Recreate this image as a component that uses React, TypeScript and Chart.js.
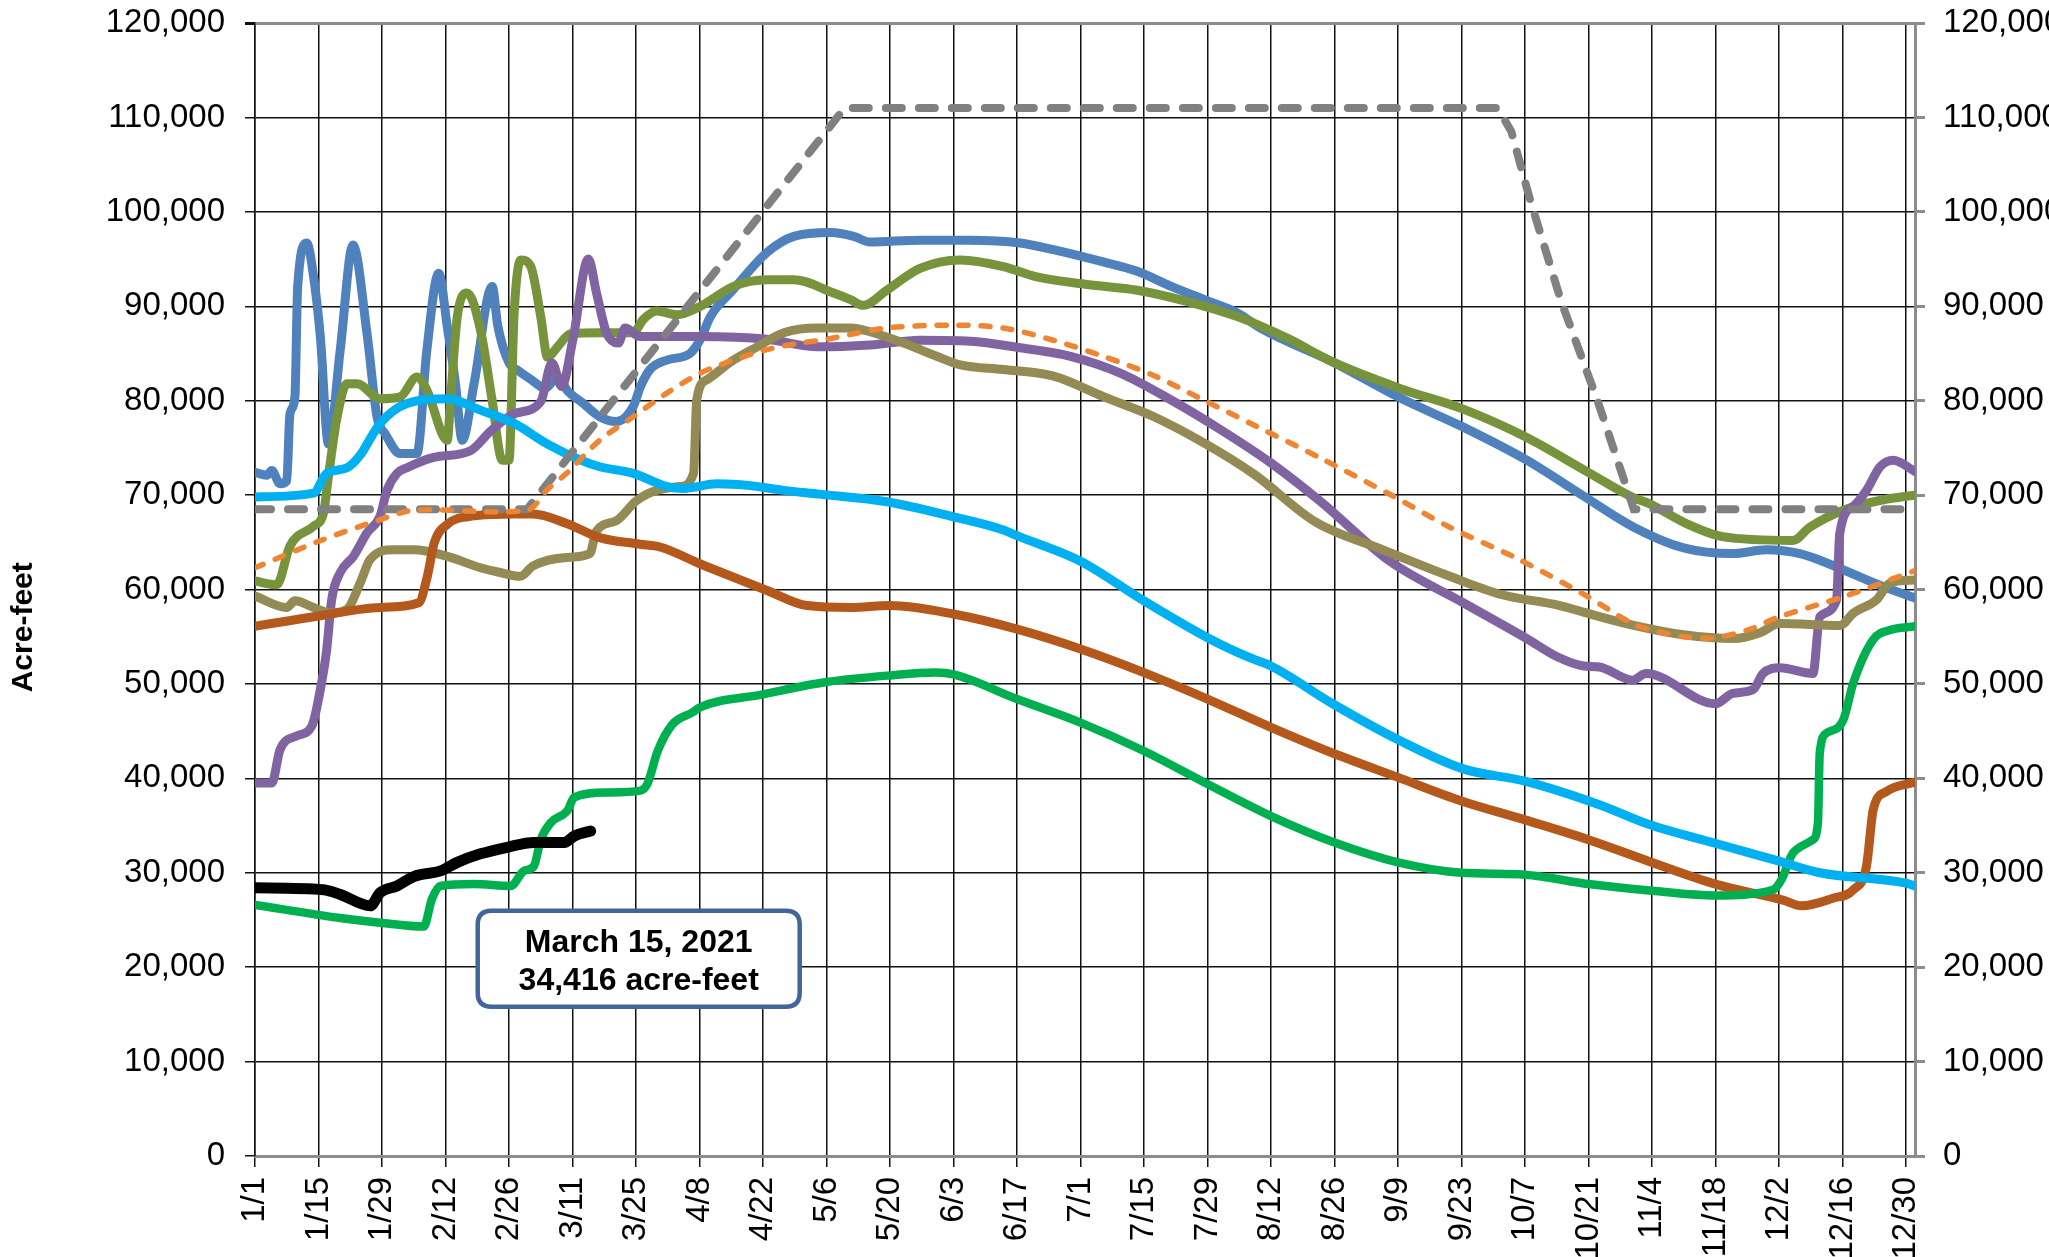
import React, { useEffect, useRef } from "react";
import { Chart, registerables } from "chart.js";

Chart.register(...registerables);

// ---- Axis definitions (leap year, day 0 = Jan 1) ----
const TICK_DAYS: number[] = [0, 14, 28, 42, 56, 70, 84, 98, 112, 126, 140, 154, 168, 182, 196, 210, 224, 238, 252, 266, 280, 294, 308, 322, 336, 350, 364];
const TICK_LABELS: string[] = ["1/1", "1/15", "1/29", "2/12", "2/26", "3/11", "3/25", "4/8", "4/22", "5/6", "5/20", "6/3", "6/17", "7/1", "7/15", "7/29", "8/12", "8/26", "9/9", "9/23", "10/7", "10/21", "11/4", "11/18", "12/2", "12/16", "12/30"];
const Y_MIN = 0;
const Y_MAX = 120000;
const Y_STEP = 10000;
const X_MAX_DAY = 366;
const Y_TITLE = "Acre-feet";

// ---- Series: [day of year, acre-feet] ----
const SERIES_STEEL_BLUE: [number, number][] = [
  [0, 72400], [2.6, 72100], [3.7, 72600], [5.5, 71200], [7, 71500], [7.7, 78600], [8.8, 80400], [9.4, 92000], [11.4, 96700], [12.9, 93200],
  [14.4, 86800], [16.2, 75400], [18.8, 85400], [21.6, 96500], [24.7, 87100], [26.9, 78300], [28.7, 76500], [32, 74400], [35.7, 74400],
  [37.9, 85400], [40.5, 93500], [42.4, 87800], [44.2, 81800], [45.7, 75800], [48.3, 81800], [52.3, 92100], [53.5, 88000], [56, 84000], [58, 83200],
  [61, 82200], [64, 81300], [66.7, 82500], [69, 81000], [72.4, 79700], [76, 78300], [79.7, 77800], [83.4, 79400], [85, 81500], [87.1, 83300],
  [90.8, 84300], [95.9, 85000], [98.2, 86500], [100.4, 88900], [105.5, 91800], [112.9, 95700], [118.8, 97400], [127, 97800], [132, 97400], [135.6, 96800],
  [146.6, 97000], [157.7, 97000], [168.7, 96700], [176, 96000], [187, 94700], [194.5, 93700], [202, 92100], [209.3, 90700], [216.6, 89300], [222, 87600],
  [237.6, 84100], [252.4, 80300], [266.4, 77200], [280.4, 73700], [292.9, 69900], [304, 66600], [315, 64400], [325.8, 63800], [333.2, 64200], [340.6, 63800],
  [345, 63100], [359, 60300], [366, 59100],
];

const SERIES_OLIVE: [number, number][] = [
  [0, 60900], [4.8, 60500], [7.7, 64600], [12.9, 66700], [15.1, 68100], [16.2, 72000], [18, 78000], [20.3, 81800], [22.5, 81800], [27.6, 80200],
  [32, 80400], [35.7, 82500], [37.9, 81100], [42.4, 75800], [43.1, 80000], [44.6, 88900], [46.8, 91400], [49.7, 87500], [52.3, 80000], [54.5, 73700],
  [56, 73700], [57.1, 88900], [58.6, 94900], [60.8, 94200], [63, 88900], [64.5, 84600], [66.7, 85700], [69.6, 87100], [76, 87200], [83.4, 87200],
  [85.6, 88600], [88.6, 89500], [93, 89100], [98.2, 90000], [105.5, 92100], [112.9, 92800], [118.8, 92800], [127.6, 91400], [131.3, 90700], [134.1, 90100],
  [139.3, 91700], [146.6, 94000], [155.5, 94900], [165, 94200], [172.4, 93100], [183.5, 92300], [194.5, 91700], [205.6, 90500], [216.6, 88900], [227.7, 86600],
  [237.6, 84100], [252.4, 81300], [266.4, 79100], [280.4, 76100], [292.9, 72700], [304, 69700], [307.4, 69100], [315.5, 67000], [323.6, 65600], [339.1, 65200],
  [342.8, 66600], [350.2, 68400], [359, 69500], [366, 70000],
];

const SERIES_PURPLE: [number, number][] = [
  [0, 39500], [3.7, 39500], [5.5, 43000], [9.2, 44500], [12.5, 45500], [14.4, 49400], [15.8, 53600], [16.9, 58900], [18.8, 61800], [21.7, 63500],
  [24.7, 66000], [27.6, 67800], [29.1, 70500], [31.3, 72300], [33.5, 72900], [39.4, 74000], [47.5, 74700], [52, 76800], [57.1, 78600], [63, 79900],
  [65.5, 84000], [67.6, 81500], [70.1, 86500], [73.5, 95000], [75.3, 91400], [77.5, 87200], [80.1, 86100], [81.6, 87700], [84.9, 86800], [98.2, 86800],
  [112.9, 86500], [124, 85700], [135.6, 85900], [146.6, 86400], [157.7, 86300], [168.7, 85600], [179.8, 84700], [190.9, 82900], [201.9, 80100], [213, 76900],
  [224, 73400], [235, 69300], [250.2, 63000], [266.4, 58600], [280.4, 54800], [287, 52900], [292.9, 51900], [296.4, 51800], [303.7, 50400], [306.7, 51100],
  [322, 47900], [325.8, 49000], [330.3, 49400], [332.5, 51100], [336.2, 51700], [343.5, 51100], [345, 57100], [348.7, 58900], [349.4, 65900], [352.4, 68800],
  [355.3, 70500], [358.3, 73000], [361.2, 73700], [366, 72500],
];

const SERIES_KHAKI: [number, number][] = [
  [0, 59300], [7, 58100], [8.8, 58800], [12.9, 58100], [16.6, 57500], [20.3, 57900], [23.2, 60700], [25.4, 63200], [30.6, 64200], [35, 64200],
  [42.4, 63500], [49.7, 62300], [54, 61800], [58.5, 61400], [61.3, 62500], [68.7, 63400], [73.8, 63800], [75.3, 66200], [79.7, 67300], [84.1, 69400],
  [88.6, 70500], [93.7, 70900], [96.7, 72300], [97.4, 80100], [99.6, 82200], [105.5, 84300], [110.7, 85700], [116.6, 87200], [124, 87700], [131.3, 87700],
  [135.6, 87300], [143, 86100], [150.3, 84700], [155.5, 83800], [165, 83300], [176.1, 82600], [187.2, 80400], [198.2, 78300], [209.3, 75500], [220.3, 72200],
  [234, 67100], [248.7, 64200], [263.4, 61400], [274.5, 59500], [287.7, 58300], [292.9, 57600], [304, 56200], [315, 55200], [326, 54800], [331.7, 55400],
  [336.2, 56400], [349.5, 56200], [352.4, 57500], [357.5, 58900], [360.5, 60700], [366, 61000],
];

const SERIES_BROWN: [number, number][] = [
  [0, 56100], [14, 57200], [27.6, 58100], [36.1, 58600], [38, 61400], [39.5, 64900], [42.4, 66900], [48.3, 67800], [57.1, 68000], [61.3, 68000],
  [68.7, 67000], [76, 65500], [84.9, 64800], [89.3, 64500], [98.2, 62700], [105.5, 61300], [112.9, 59900], [121.7, 58300], [131.3, 58100], [140, 58300],
  [154, 57400], [168, 55800], [182, 53700], [196, 51200], [210, 48400], [224, 45400], [238, 42600], [252, 40100], [266, 37600], [280, 35600],
  [294, 33500], [307.4, 31200], [322, 28800], [336.9, 27100], [341, 26500], [347.9, 27300], [352.4, 28200], [355.3, 30700], [356.8, 36700], [359.7, 38600],
  [366, 39600],
];

const SERIES_CYAN: [number, number][] = [
  [0, 69800], [12.9, 70200], [15.8, 72300], [20.3, 72900], [23.6, 74500], [24.7, 75400], [27.6, 77600], [33.5, 79700], [42.4, 80200], [49.7, 79000],
  [57.1, 77600], [64.5, 75400], [71.8, 73700], [76, 73000], [83.4, 72300], [90.8, 70900], [94.5, 70700], [101.8, 71200], [109.2, 71000], [116.6, 70500],
  [124.5, 70100], [139.3, 69300], [154, 67700], [165, 66300], [168, 65700], [182, 63000], [196, 58800], [210, 54900], [219.2, 52800], [224, 51900],
  [237.6, 47900], [252.4, 44000], [266.4, 41000], [280, 39700], [296.4, 37200], [307.4, 35100], [322.1, 33100], [336.2, 31200], [345, 30000], [364, 28900],
  [366, 28600],
];

const SERIES_GREEN: [number, number][] = [
  [0, 26600], [18.8, 25200], [27.6, 24700], [37.2, 24300], [39, 27200], [40.9, 28600], [48.3, 28800], [56.4, 28600], [59.3, 30200], [61.5, 30700],
  [63, 33500], [65.2, 35300], [68.9, 36600], [70.4, 38000], [77.7, 38500], [85, 38700], [86.5, 39400], [88.8, 42900], [92, 45700], [96.5, 47000],
  [98, 47500], [112, 48900], [126, 50200], [140, 50900], [150, 51200], [154, 51000], [168, 48400], [182, 45900], [196, 42900], [210, 39400],
  [224, 36000], [238, 33200], [252, 31100], [266, 30000], [280, 29800], [294, 28800], [308, 28100], [322, 27600], [334.7, 28200], [336.6, 29300],
  [339.1, 32100], [343.5, 33500], [344.6, 35300], [345, 42700], [346.5, 44800], [350.2, 46200], [352.4, 50100], [356.8, 54700], [360.5, 55700], [366, 56100],
];

const SERIES_CURRENT: [number, number][] = [
  [0, 28400], [15.1, 28200], [18.8, 27700], [25.4, 26500], [27.6, 27900], [31.3, 28600], [35, 29600], [40.9, 30200], [44.6, 31100], [49.7, 32000],
  [55.6, 32700], [61.5, 33200], [68.2, 33200], [70.4, 33900], [74, 34416],
];

const SERIES_RULE_CURVE: [number, number][] = [
  [0, 68500], [60, 68500], [130, 111000], [274, 111000], [277, 108500], [281, 101500], [288, 90500], [296, 80000], [304, 68500], [366, 68500],
];

const SERIES_AVERAGE: [number, number][] = [
  [0, 62300], [14, 65100], [27.6, 67400], [35, 68400], [60, 68400], [64.5, 70600], [68.7, 72300], [76, 75800], [83.4, 78300], [90.8, 80800],
  [98.1, 82900], [105.5, 84300], [112.8, 85400], [120.2, 86100], [126, 86500], [139.3, 87700], [154, 88000], [165, 87700], [176, 86400], [187, 84700],
  [198, 82700], [209, 80100], [220.3, 77400], [235, 73900], [250.9, 69900], [263.4, 66600], [278.2, 63300], [292.9, 59500], [304, 56300], [308, 55700],
  [315, 55000], [322, 54900], [329.7, 55800], [336, 57100], [350, 59200], [366, 62000],
];

// ---- Annotation ----
const NOTE_DATE = "March 15, 2021";
const NOTE_VALUE = SERIES_CURRENT[SERIES_CURRENT.length - 1][1];
const NOTE_ANCHOR_DAY = 84.6;
const NOTE_ANCHOR_VALUE = 20900;

const FONT = "Arial, 'Liberation Sans', Helvetica, sans-serif";

const toXY = (s: [number, number][]) => s.map(([x, y]) => ({ x, y }));

const overlayPlugin = {
  id: "overlayText",
  afterDatasetsDraw(chart: any) {
    const { ctx, scales } = chart;
    const cx = scales.x.getPixelForValue(NOTE_ANCHOR_DAY);
    const cy = scales.y.getPixelForValue(NOTE_ANCHOR_VALUE);
    const w = 322;
    const h = 96;
    const x0 = cx - w / 2;
    const y0 = cy - h / 2;
    const r = 14;
    ctx.save();
    ctx.beginPath();
    ctx.moveTo(x0 + r, y0);
    ctx.lineTo(x0 + w - r, y0);
    ctx.quadraticCurveTo(x0 + w, y0, x0 + w, y0 + r);
    ctx.lineTo(x0 + w, y0 + h - r);
    ctx.quadraticCurveTo(x0 + w, y0 + h, x0 + w - r, y0 + h);
    ctx.lineTo(x0 + r, y0 + h);
    ctx.quadraticCurveTo(x0, y0 + h, x0, y0 + h - r);
    ctx.lineTo(x0, y0 + r);
    ctx.quadraticCurveTo(x0, y0, x0 + r, y0);
    ctx.closePath();
    ctx.fillStyle = "#ffffff";
    ctx.fill();
    ctx.lineWidth = 4.5;
    ctx.strokeStyle = "#41669a";
    ctx.stroke();
    ctx.fillStyle = "#000";
    ctx.font = `bold 32px ${FONT}`;
    ctx.textAlign = "center";
    ctx.textBaseline = "alphabetic";
    ctx.fillText(NOTE_DATE, cx, cy - 7);
    ctx.fillText(`${NOTE_VALUE.toLocaleString("en-US")} acre-feet`, cx, cy + 31);
    ctx.restore();
  },
  afterDraw(chart: any) {
    const { ctx, scales } = chart;
    const ty = scales.y.getPixelForValue(56000);
    ctx.save();
    ctx.translate(24, ty);
    ctx.rotate(-Math.PI / 2);
    ctx.font = `bold 30px ${FONT}`;
    ctx.fillStyle = "#000";
    ctx.textAlign = "center";
    ctx.textBaseline = "middle";
    ctx.fillText(Y_TITLE, 0, 0);
    ctx.restore();
  },
};

const zeroPad = (scale: any) => {
  scale.paddingTop = 0;
  scale.paddingBottom = 0;
  scale.paddingLeft = 0;
  scale.paddingRight = 0;
};

export default function App() {
  const canvasRef = useRef<HTMLCanvasElement | null>(null);

  useEffect(() => {
    const canvas = canvasRef.current;
    if (!canvas) return;

    const solid = (label: string, data: [number, number][], color: string, width: number, order: number) => ({
      label,
      data: toXY(data),
      borderColor: color,
      backgroundColor: color,
      borderWidth: width,
      pointRadius: 0,
      fill: false,
      cubicInterpolationMode: "monotone" as const,
      borderJoinStyle: "round" as const,
      borderCapStyle: "round" as const,
      order,
    });

    const chart = new Chart(canvas, {
      type: "line",
      data: {
        datasets: [
          solid("2021", SERIES_CURRENT, "#000000", 11, 0),
          {
            label: "Average",
            data: toXY(SERIES_AVERAGE),
            borderColor: "#ee8532",
            borderWidth: 5.5,
            borderDash: [9, 13],
            borderCapStyle: "round",
            pointRadius: 0,
            tension: 0.3,
            order: 1,
          },
          {
            label: "Rule curve",
            data: toXY(SERIES_RULE_CURVE),
            borderColor: "#808080",
            borderWidth: 8,
            borderDash: [16, 17],
            borderCapStyle: "round",
            pointRadius: 0,
            tension: 0,
            order: 2,
          },
          solid("Cyan", SERIES_CYAN, "#00b0f0", 9, 3),
          solid("Green", SERIES_GREEN, "#00b050", 8.5, 4),
          solid("Brown", SERIES_BROWN, "#b5581c", 9, 5),
          solid("Khaki", SERIES_KHAKI, "#948a54", 9, 6),
          solid("Purple", SERIES_PURPLE, "#8064a2", 9, 7),
          solid("Olive", SERIES_OLIVE, "#77933c", 9, 8),
          solid("Blue", SERIES_STEEL_BLUE, "#4f81bd", 9, 9),
        ] as any,
      },
      options: {
        responsive: false,
        animation: false,
        devicePixelRatio: 1,
        events: [],
        layout: { padding: { top: 23, left: 0, right: 0, bottom: 0 } },
        plugins: {
          legend: { display: false },
          tooltip: { enabled: false },
          title: { display: false },
        },
        scales: {
          x: {
            type: "linear",
            min: 0,
            max: X_MAX_DAY,
            afterBuildTicks: (scale: any) => {
              scale.ticks = TICK_DAYS.map((v) => ({ value: v }));
            },
            afterFit: (scale: any) => {
              scale.height = 101;
              zeroPad(scale);
            },
            ticks: {
              autoSkip: false,
              minRotation: 90,
              maxRotation: 90,
              padding: 10,
              color: "#000",
              font: { family: FONT, size: 33 },
              callback: (v: any) => {
                const i = TICK_DAYS.indexOf(Number(v));
                return i >= 0 ? TICK_LABELS[i] : "";
              },
            },
            grid: {
              color: "#111",
              lineWidth: 1.5,
              tickLength: 11,
              tickColor: "#111",
              drawTicks: true,
            },
            border: { display: true, color: "#8c8c8c", width: 3 },
          },
          y: {
            type: "linear",
            position: "left",
            min: Y_MIN,
            max: Y_MAX,
            afterFit: (scale: any) => {
              scale.width = 255;
              zeroPad(scale);
            },
            ticks: {
              stepSize: Y_STEP,
              padding: 20,
              color: "#000",
              font: { family: FONT, size: 33 },
              callback: (v: any) => Number(v).toLocaleString("en-US"),
            },
            grid: {
              color: (c: any) =>
                c.tick && c.tick.value === Y_MAX ? "#8c8c8c" : c.tick && c.tick.value === 0 ? "rgba(0,0,0,0)" : "#111",
              lineWidth: (c: any) => (c.tick && c.tick.value === Y_MAX ? 3 : 1.5),
              tickLength: 10,
              tickColor: "#111",
            },
            border: { display: true, color: "#111", width: 1.5 },
          },
          y2: {
            type: "linear",
            position: "right",
            min: Y_MIN,
            max: Y_MAX,
            afterFit: (scale: any) => {
              scale.width = 134;
              zeroPad(scale);
            },
            ticks: {
              stepSize: Y_STEP,
              padding: 18,
              color: "#000",
              font: { family: FONT, size: 33 },
              callback: (v: any) => Number(v).toLocaleString("en-US"),
            },
            grid: {
              drawOnChartArea: false,
              drawTicks: true,
              tickLength: 10,
              tickColor: "#8c8c8c",
              lineWidth: 3,
            },
            border: { display: true, color: "#8c8c8c", width: 3 },
          },
        },
      } as any,
      plugins: [overlayPlugin],
    });

    return () => {
      chart.destroy();
    };
  }, []);

  return (
    <div style={{ position: "fixed", left: 0, top: 0, width: 2049, height: 1257, background: "#fff" }}>
      <canvas ref={canvasRef} width={2049} height={1257} style={{ display: "block", width: 2049, height: 1257 }} />
    </div>
  );
}
